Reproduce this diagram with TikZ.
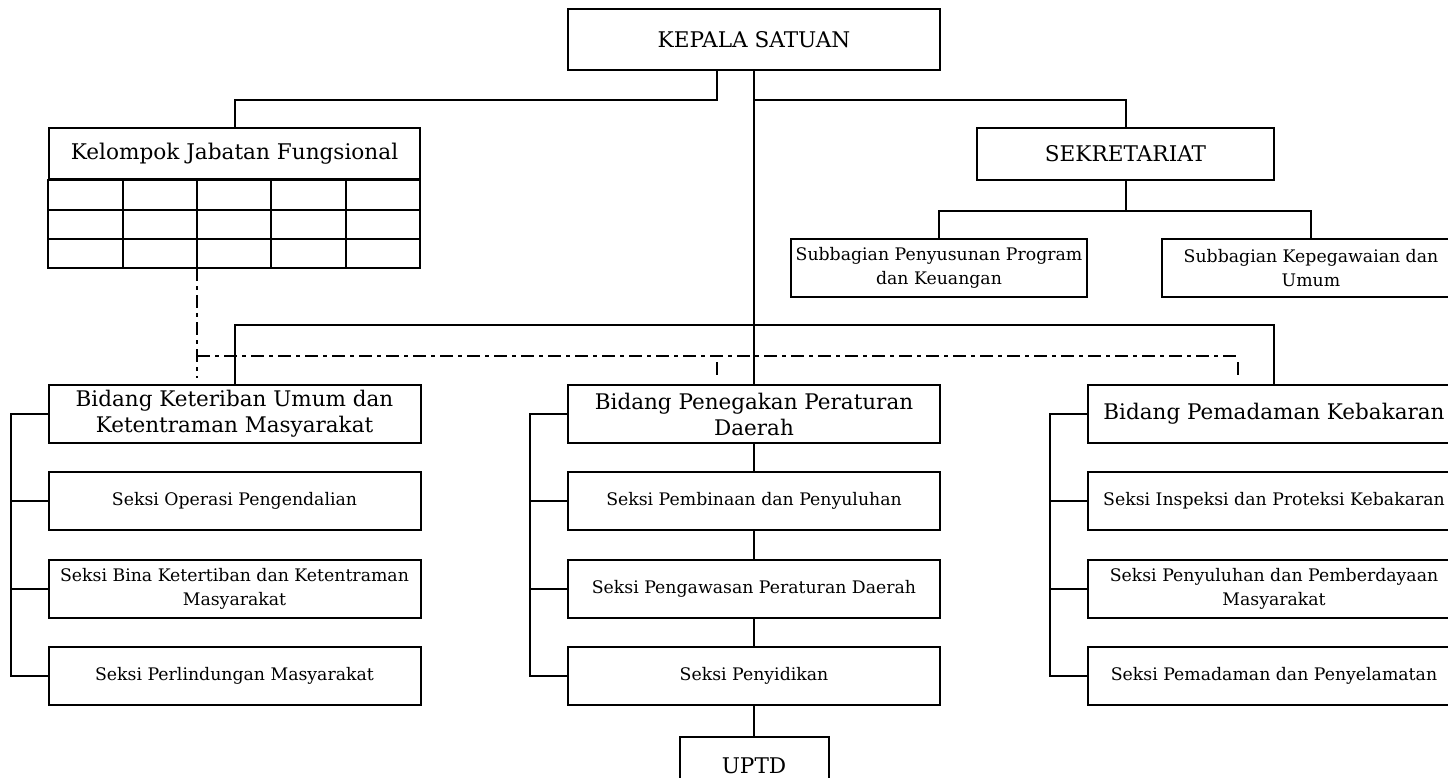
\documentclass[tikz,border=0pt]{standalone}
\usepackage{fontspec}
\setmainfont{DejaVu Serif}
\newcommand\fTop{\fontsize{21.6}{25}\selectfont}
\newcommand\fBid{\fontsize{21.5}{26}\selectfont}
\newcommand\fSek{\fontsize{17.3}{24}\selectfont}
\begin{document}
\begin{tikzpicture}[x=1pt,y=-1pt,line width=2pt,
  box/.style={draw,rectangle,inner sep=0pt,align=center},
  wide/.style={box,minimum width=372pt,minimum height=58pt},
  topbox/.style={box,font=\fTop},
  bidbox/.style={wide,font=\fBid},
  sekbox/.style={wide,font=\fSek},
  subbox/.style={box,font=\fSek,minimum width=297pt,minimum height=58pt},
  dd/.style={line width=2pt,dash pattern=on 13pt off 5pt on 4pt off 5pt}]
\useasboundingbox (0,0) rectangle (1448,778);
\clip (0,0) rectangle (1448,778);
% top level
\node[topbox,minimum width=372pt,minimum height=61pt] (kepala) at (754,39.5) {KEPALA SATUAN};
\node[topbox,minimum width=371pt,minimum height=51pt] (kjf) at (234.5,153.5) {Kelompok Jabatan Fungsional};
\node[topbox,minimum width=297pt,minimum height=52pt] (sek) at (1125.5,154) {SEKRETARIAT};
\node[subbox,minimum width=296pt] (sub1) at (939,268) {Subbagian Penyusunan Program\\dan Keuangan};
\node[subbox,minimum width=298pt] (sub2) at (1311,268) {Subbagian Kepegawaian dan\\Umum};
% table under Kelompok Jabatan Fungsional
\draw (kjf.south west) rectangle (420,268);
\foreach \y in {210,239} \draw (49,\y) -- (420,\y);
\foreach \x in {123,197,271,346} \draw (\x,179) -- (\x,268);
\coordinate (kjfdash) at (197,268);
% bidang 1
\node[bidbox] (b1) at (234.5,414) {Bidang Keteriban Umum dan\\Ketentraman Masyarakat};
\node[sekbox] (s11) at (234.5,501) {Seksi Operasi Pengendalian};
\node[sekbox] (s12) at (234.5,588.5) {Seksi Bina Ketertiban dan Ketentraman\\Masyarakat};
\node[sekbox] (s13) at (234.5,676) {Seksi Perlindungan Masyarakat};
% bidang 2
\node[bidbox] (b2) at (754,414) {Bidang Penegakan Peraturan\\Daerah};
\node[sekbox] (s21) at (754,501) {Seksi Pembinaan dan Penyuluhan};
\node[sekbox] (s22) at (754,588.5) {Seksi Pengawasan Peraturan Daerah};
\node[sekbox] (s23) at (754,676) {Seksi Penyidikan};
\node[box,font=\fTop,minimum width=149pt,minimum height=58pt] (uptd) at (754,766) {UPTD};
% bidang 3
\node[bidbox] (b3) at (1274,414) {Bidang Pemadaman Kebakaran};
\node[sekbox] (s31) at (1274,501) {Seksi Inspeksi dan Proteksi Kebakaran};
\node[sekbox] (s32) at (1274,588.5) {Seksi Penyuluhan dan Pemberdayaan\\Masyarakat};
\node[sekbox] (s33) at (1274,676) {Seksi Pemadaman dan Penyelamatan};
% connectors
\draw ([xshift=-37pt]kepala.south) -- ++(0,29) -| (kjf.north);
\draw (kepala.south) -- (b2.north);
\draw ([yshift=-29pt]kepala.south) -| (sek.north);
\draw (sek.south) -- ++(0,30) coordinate (sj);
\draw (sub1.north) |- (sj) -| (sub2.north);
\draw (b1.north) |- ([yshift=59pt]b2.north) -| (b3.north);
\draw (b2.south) -- (s21.north);
\draw (s21.south) -- (s22.north);
\draw (s22.south) -- (s23.north);
\draw (s23.south) -- (uptd.north);
\foreach \g in {1,2,3}{
  \draw (b\g.west) -- ++(-37,0) |- (s\g3.west);
  \draw (s\g1.west) -- ++(-37,0);
  \draw (s\g2.west) -- ++(-37,0);
}
% dash-dot lines
\draw[dd] (kjfdash) -- (kjfdash |- 0,378);
\draw[dd] (kjfdash |- 0,356) -- (1238,356);
\draw[dd] ([xshift=-37pt,yshift=22pt]b2.north) -- ([xshift=-37pt,yshift=6pt]b2.north);
\draw[dd] ([xshift=-36pt,yshift=22pt]b3.north) -- ([xshift=-36pt,yshift=6pt]b3.north);
\end{tikzpicture}
\end{document}
